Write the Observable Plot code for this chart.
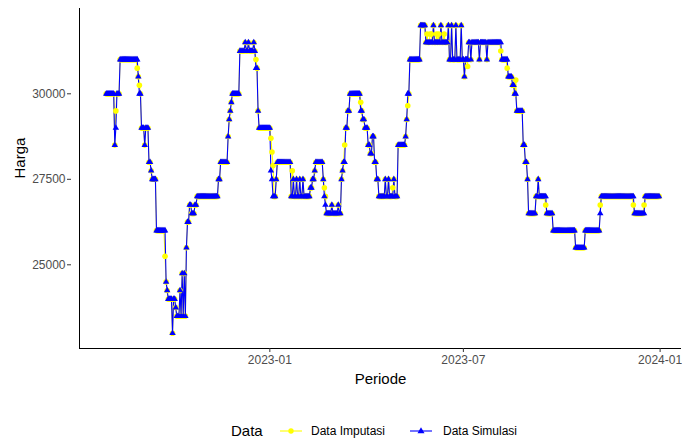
<!DOCTYPE html>
<html><head><meta charset="utf-8">
<script src="https://cdn.jsdelivr.net/npm/d3@7"></script>
<script src="https://cdn.jsdelivr.net/npm/@observablehq/plot@0.6"></script>
<style>
body{margin:0;background:#fff;font-family:"Liberation Sans",Arial,sans-serif;}
#wrap{position:relative;width:682px;height:438px;overflow:hidden;}
#legend span{position:absolute;white-space:nowrap;color:#000;}
#legend svg{position:absolute;}
</style></head>
<body><div id="wrap"><div id="chart"></div>
<div id="legend">
<span style="left:231px;top:422px;font-size:15px;">Data</span>
<svg style="left:278px;top:423px" width="26" height="16"><line x1="2" x2="24" y1="8" y2="8" stroke="#ffff00" stroke-width="1.1"/><circle cx="13" cy="8" r="2.7" fill="#ffff00"/></svg>
<span style="left:311px;top:424px;font-size:12px;">Data Imputasi</span>
<svg style="left:408px;top:423px" width="26" height="16"><line x1="2" x2="24" y1="8" y2="8" stroke="#0000ff" stroke-width="1.1"/><path d="M13,4.3 L16.5,10.3 L9.5,10.3 Z" fill="#0000ff"/></svg>
<span style="left:443px;top:424px;font-size:12px;">Data Simulasi</span>
</div></div>
<script>
const startDate = "2022-08-01";
const endDate = "2023-12-31";
const xTicks = ["2023-01-01", "2023-07-01", "2024-01-01"];
const yTicks = [25000, 27500, 30000];

// Data Simulasi: dates where the price changes, and the new price
const simDates = ["2022-08-01","2022-08-09","2022-08-10","2022-08-11","2022-08-14","2022-08-31","2022-09-01","2022-09-03","2022-09-06","2022-09-07","2022-09-10","2022-09-12","2022-09-13","2022-09-17","2022-09-26","2022-09-27","2022-09-28","2022-10-02","2022-10-03","2022-10-05","2022-10-06","2022-10-09","2022-10-10","2022-10-11","2022-10-12","2022-10-13","2022-10-14","2022-10-15","2022-10-16","2022-10-18","2022-10-20","2022-10-23","2022-10-25","2022-11-14","2022-11-16","2022-11-23","2022-11-24","2022-11-25","2022-11-26","2022-11-27","2022-12-04","2022-12-09","2022-12-10","2022-12-12","2022-12-13","2022-12-17","2022-12-18","2022-12-19","2022-12-21","2022-12-22","2023-01-02","2023-01-03","2023-01-04","2023-01-07","2023-01-08","2023-01-21","2023-01-23","2023-01-24","2023-01-26","2023-01-27","2023-01-29","2023-01-30","2023-02-01","2023-02-02","2023-02-08","2023-02-10","2023-02-12","2023-02-13","2023-02-20","2023-02-21","2023-02-22","2023-02-23","2023-02-28","2023-03-01","2023-03-06","2023-03-07","2023-03-09","2023-03-10","2023-03-11","2023-03-13","2023-03-15","2023-03-17","2023-03-27","2023-03-29","2023-03-31","2023-04-03","2023-04-05","2023-04-07","2023-04-09","2023-04-11","2023-04-13","2023-04-19","2023-04-20","2023-04-22","2023-04-23","2023-04-27","2023-04-28","2023-05-01","2023-05-08","2023-05-09","2023-05-10","2023-05-12","2023-05-22","2023-05-27","2023-06-03","2023-06-04","2023-06-10","2023-06-11","2023-06-17","2023-06-18","2023-06-20","2023-06-21","2023-06-24","2023-06-25","2023-06-29","2023-06-30","2023-07-02","2023-07-03","2023-07-06","2023-07-08","2023-07-09","2023-07-16","2023-07-17","2023-07-23","2023-07-24","2023-08-06","2023-08-12","2023-08-16","2023-08-18","2023-08-20","2023-08-26","2023-08-28","2023-08-30","2023-08-31","2023-09-07","2023-09-09","2023-09-10","2023-09-17","2023-09-23","2023-10-14","2023-10-23","2023-11-06","2023-11-07","2023-12-08","2023-12-18"];
const simValues = [30000,28500,29000,30000,31000,30500,30000,29000,28500,29000,28000,27750,27500,26000,24500,24250,24000,23000,24000,23750,23500,24250,23500,24750,23500,24750,23500,25500,26250,26750,26500,26750,27000,27500,28000,28750,29250,29500,29750,30000,31250,31500,31250,31500,31250,31500,31250,30750,29500,29000,27750,27500,27000,27500,28000,27000,27500,27000,27500,27000,27500,27000,27500,27000,27250,27500,27750,28000,27500,27000,26750,26500,26750,26500,26750,26500,27500,27750,28000,29000,29500,30000,29500,29250,29000,28500,28250,28750,28000,27500,27000,27500,27000,27500,27000,27500,27000,28500,28750,29250,30000,31000,32000,31500,32000,31500,32000,31500,32000,31000,32000,31000,32000,31000,32000,31000,30500,31000,31500,31000,31500,31000,31500,31000,31500,31000,30500,30250,30000,29500,28500,28000,27500,26500,27000,27500,27000,26500,26000,25500,26000,26500,27000,26500,27000];

// Data Imputasi: days where the imputed value differs from the simulated one
const impDates = ["2022-08-10","2022-08-30","2022-09-01","2022-09-25","2022-12-19","2023-01-02","2023-01-03","2023-01-04","2023-01-22","2023-02-21","2023-02-22","2023-03-12","2023-03-27","2023-04-26","2023-05-10","2023-05-28","2023-05-31","2023-06-01","2023-06-06","2023-06-08","2023-06-13","2023-07-05","2023-08-05","2023-08-11","2023-08-19","2023-09-16","2023-11-06","2023-12-07","2023-12-17"];
const impValues = [29500,30750,30250,25250,31000,28700,28300,27900,27750,27250,27000,28500,29750,27250,29650,31750,31750,31750,31750,31750,31750,30800,31250,30750,30400,26750,26750,26750,26750];

const parse = d3.utcParse("%Y-%m-%d");
const fmt = d3.utcFormat("%Y-%m-%d");
const days = d3.utcDay.range(parse(startDate), d3.utcDay.offset(parse(endDate), 1));
const changes = simDates.map((d, i) => ({t: parse(d), v: simValues[i]}));
let k = 0;
const sim = days.map(t => {
  while (k + 1 < changes.length && changes[k + 1].t <= t) k++;
  return {date: t, value: changes[k].v};
});
const impMap = new Map(impDates.map((d, i) => [d, impValues[i]]));
const imp = sim.map(d => ({date: d.date, value: impMap.has(fmt(d.date)) ? impMap.get(fmt(d.date)) : d.value}));

const xDomain = [parse("2022-07-07"), parse("2024-01-21")];
const yDomain = [22553, 32494];

const chart = Plot.plot({
  width: 682, height: 405,
  marginLeft: 79, marginRight: 1, marginTop: 8, marginBottom: 57,
  style: {fontFamily: "'Liberation Sans', Arial, sans-serif", background: "#fff"},
  x: {type: "utc", domain: xDomain, axis: null},
  y: {domain: yDomain, axis: null},
  marks: [
    Plot.line(imp, {x: "date", y: "value", stroke: "#ffff00", strokeWidth: 1.1}),
    Plot.line(sim, {x: "date", y: "value", stroke: "#0000ff", strokeWidth: 1.1}),
    Plot.dot(imp, {x: "date", y: "value", r: 2.8, fill: "#ffff00", stroke: null}),
    Plot.dot(sim, {x: "date", y: "value", symbol: "triangle", r: 2.4, fill: "#0000ff", stroke: null}),
    Plot.ruleX([xDomain[0]], {stroke: "#000", strokeWidth: 1}),
    Plot.ruleY([yDomain[0]], {stroke: "#000", strokeWidth: 1}),
    Plot.axisX(xTicks.map(parse), {tickSize: 4, tickPadding: 3, tickFormat: d3.utcFormat("%Y-%m"), fontSize: 12, fill: "#4d4d4d", stroke: "#333", label: null}),
    Plot.axisY(yTicks, {tickSize: 4, dx: -8, tickPadding: 2, fontSize: 12, fill: "#4d4d4d", stroke: "#333", label: null, tickFormat: d => String(d)}),
    Plot.text(["Periode"], {frameAnchor: "bottom", dy: 35, fontSize: 15, fill: "#000"}),
    Plot.text(["Harga"], {frameAnchor: "left", dx: -59, rotate: -90, fontSize: 15, fill: "#000"})
  ]
});
document.getElementById("chart").appendChild(chart);
</script>
</body></html>
